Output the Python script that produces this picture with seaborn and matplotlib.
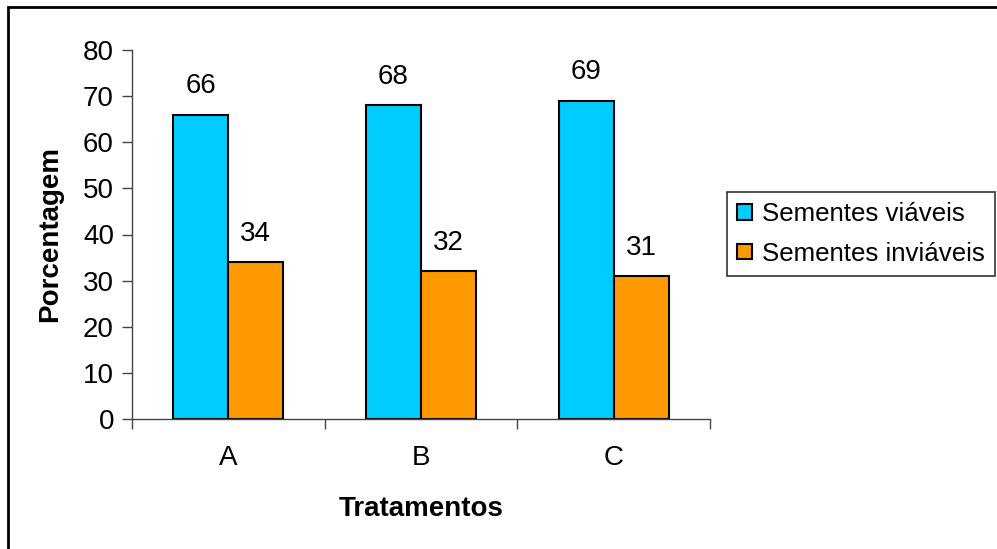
import matplotlib
matplotlib.use("Agg")
import matplotlib.pyplot as plt
import seaborn as sns
import pandas as pd
from matplotlib.patches import Rectangle

# data
tratamentos = ['A', 'B', 'C']
viaveis = [66, 68, 69]
inviaveis = [34, 32, 31]
series_names = ['Sementes viáveis', 'Sementes inviáveis']
y_ticks = [0, 10, 20, 30, 40, 50, 60, 70, 80]

df = pd.DataFrame({
    'Tratamentos': tratamentos * 2,
    'Porcentagem': viaveis + inviaveis,
    'serie': [series_names[0]] * 3 + [series_names[1]] * 3,
})

sns.set_style('white')
plt.rcParams['font.family'] = ['Liberation Sans', 'DejaVu Sans']
plt.rcParams['text.color'] = 'black'
plt.rcParams['axes.labelcolor'] = 'black'
plt.rcParams['xtick.color'] = 'black'
plt.rcParams['ytick.color'] = 'black'

FS = 20

fig = plt.figure(figsize=(9.97, 5.49), dpi=100)
ax = fig.add_axes([132 / 997, 1 - 419 / 549, 578 / 997, 369 / 549])

sns.barplot(data=df, x='Tratamentos', y='Porcentagem', hue='serie',
            palette=['#00CCFF', '#FF9900'], width=0.57, gap=0,
            edgecolor='black', linewidth=1.5, saturation=1, ax=ax)

# value labels above each bar
for cont in ax.containers:
    ax.bar_label(cont, padding=11, fontsize=FS)

ax.set_xlim(-0.5, 2.5)
ax.set_ylim(0, 80)
ax.set_yticks(y_ticks)
ax.set_xticks([-0.5, 0.5, 1.5, 2.5], minor=True)
ax.tick_params(axis='x', which='major', length=0, pad=19, labelsize=FS)
ax.tick_params(axis='x', which='minor', length=7, width=1, color='#444444', direction='out')
ax.tick_params(axis='y', length=7, width=1, color='#444444', direction='out', labelsize=FS, pad=6)
ax.xaxis.set_ticks_position('bottom')
ax.yaxis.set_ticks_position('left')

for side in ['top', 'right']:
    ax.spines[side].set_visible(False)
for side in ['left', 'bottom']:
    ax.spines[side].set_color('#444444')
    ax.spines[side].set_linewidth(1)

ax.set_xlabel('Tratamentos', fontsize=FS, fontweight='bold', labelpad=18)
ax.set_ylabel('Porcentagem', fontsize=FS, fontweight='bold', labelpad=14)

leg = ax.legend(loc='upper left', bbox_to_anchor=(727 / 997, 1 - 192 / 549),
                bbox_transform=fig.transFigure, fontsize=18.6, frameon=True,
                fancybox=False, edgecolor='black', handlelength=0.55,
                handleheight=0.55, handletextpad=0.4, borderpad=0.4,
                labelspacing=0.6, borderaxespad=0)
leg.get_frame().set_linewidth(1.2)

# outer chart frame (right and bottom edges are cut off in the reference)
fig.patches.append(Rectangle((8 / 997, -0.1), 1.1, 1 - 7 / 549 + 0.1,
                             transform=fig.transFigure, fill=False,
                             edgecolor='black', linewidth=2))

fig.savefig('out.png', dpi=100)
